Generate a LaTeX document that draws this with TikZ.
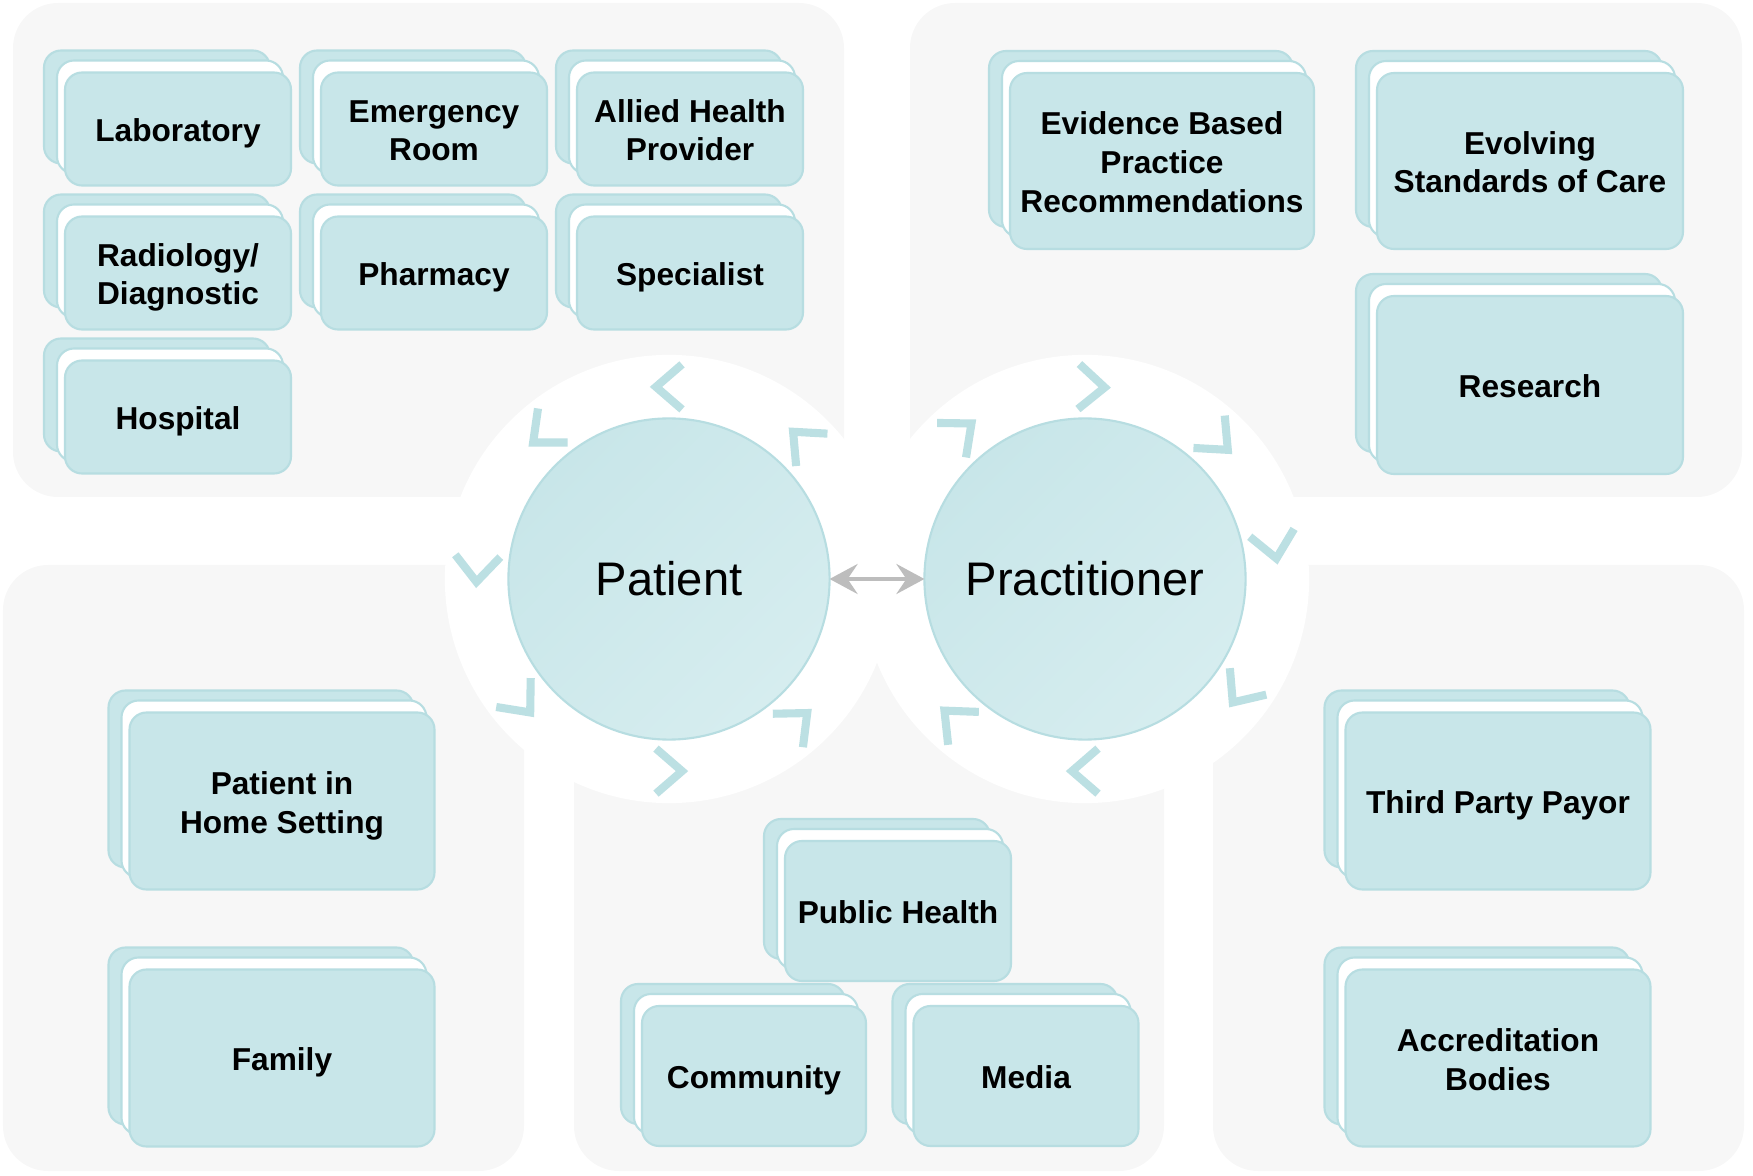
\documentclass[tikz,border=0pt]{standalone}
\usepackage{fontspec}
\setmainfont{Liberation Sans}
\usetikzlibrary{arrows.meta}
\definecolor{panelgray}{HTML}{F7F7F7}
\definecolor{cardfill}{HTML}{C8E6E9}
\definecolor{cardline}{HTML}{B7DDE1}
\definecolor{hublight}{HTML}{D6EDEF}
\definecolor{chevcol}{HTML}{BCE0E3}
\definecolor{arrowgray}{HTML}{BDBDBD}

\begin{document}
\begin{tikzpicture}[x=0.01cm,y=-0.01cm,>={Stealth[length=2.8mm,width=3mm,inset=1mm]},
    panel/.style={fill=panelgray,rounded corners=0.45cm},
    cardback/.style={fill=cardfill,draw=cardline,line width=0.6pt,rounded corners=0.17cm},
    cardmid/.style={fill=white,draw=cardline,line width=0.6pt,rounded corners=0.17cm},
    card/.style={fill=cardfill,draw=cardline,line width=0.6pt,rounded corners=0.17cm,
        align=center,inner sep=0pt,text depth=2.3pt,font=\fontsize{9}{11}\selectfont\bfseries},
    hub/.style={circle,minimum size=3.21cm,inner sep=0pt,outer sep=0pt,draw=cardline,line width=0.6pt,
        top color=cardfill,bottom color=hublight,shading angle=45,font=\fontsize{13.4}{16}\selectfont},
    chev/.style={draw=chevcol,line width=2.3pt},
    twoway/.style={draw=arrowgray,line width=1.1pt}]
    \useasboundingbox (0,0) rectangle (1753,1176);
    \fill[panel] (13,3) rectangle (844,497);
    \fill[panel] (910,3) rectangle (1742,497);
    \fill[panel] (3,565) rectangle (524,1171);
    \fill[panel] (574,565) rectangle (1164,1171);
    \fill[panel] (1213,565) rectangle (1744,1171);
    \coordinate (patc) at (669,579);
    \coordinate (pracc) at (1085,579);
    \fill[white] (patc) circle[radius=2.24cm];
    \fill[white] (pracc) circle[radius=2.24cm];
    \foreach \a in {46,90,131,177,220,270,312}
        \draw[chev,shift={(patc)},rotate=\a] (1.695cm,-0.13cm) -- (1.92cm,0.13cm) -- (2.145cm,-0.13cm);
    \foreach \a in {130,88,46,10,-36,-90,-133}
        \draw[chev,shift={(pracc)},rotate=\a] (1.695cm,0.13cm) -- (1.92cm,-0.13cm) -- (2.145cm,0.13cm);
    \foreach \nm/\cx/\cy/\w/\h/\txt in {
        lab/178/129/226/113/Laboratory,
        er/434/129/226/113/{Emergency\\Room},
        ahp/690/129/226/113/{Allied Health\\Provider},
        rad/178/273/226/113/{Radiology/\\Diagnostic},
        pharm/434/273/226/113/Pharmacy,
        spec/690/273/226/113/Specialist,
        hosp/178/417/226/113/Hospital,
        ebp/1162/161/304/176/{Evidence Based\\Practice\\Recommendations},
        esc/1530/161/306/176/{Evolving\\Standards of Care},
        res/1530/385/306/178/Research,
        home/282/801/305/177/{Patient in\\Home Setting},
        fam/282/1058/305/177/Family,
        pub/898/911/226/140/Public Health,
        comm/754/1076/224/140/Community,
        media/1026/1076/225/140/Media,
        tpp/1498/801/305/177/Third Party Payor,
        acc/1498/1058/305/177/{Accreditation\\Bodies}}
    {
        \draw[cardback] (\cx-\w/2-21,\cy-\h/2-22) rectangle ++(\w,\h);
        \draw[cardmid] (\cx-\w/2-8,\cy-\h/2-12) rectangle ++(\w,\h);
        \node[card,minimum width=\w*0.01cm,minimum height=\h*0.01cm] (\nm) at (\cx,\cy) {\rule{0pt}{9.5pt}\txt};
    }
    \node[hub] (pat) at (patc) {Patient};
    \node[hub] (prac) at (pracc) {Practitioner};
    \draw[<->,twoway] (pat) -- (prac);
\end{tikzpicture}
\end{document}
